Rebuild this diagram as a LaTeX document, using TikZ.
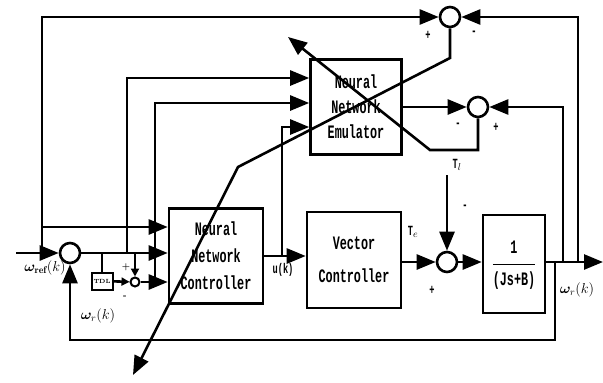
\documentclass[tikz,border=0pt]{standalone}
\usepackage{bm}
\usepackage{fontspec}
\usetikzlibrary{positioning,arrows.meta}
\newfontfamily\blockfont[FakeStretch=0.62]{Liberation Mono}

\begin{document}
\begin{tikzpicture}[
    x=1pt, y=-1pt,
    line width=2.6pt,
    block/.style={
        draw,
        rectangle,
        align=center,
        minimum width=94pt,
        minimum height=95pt,
        inner sep=0pt,
        font=\blockfont\bfseries\fontsize{19}{27}\selectfont
    },
    sum/.style={draw, circle, minimum size=#1, inner sep=0pt},
    sum/.default=20pt,
    tdlbox/.style={
        draw,
        line width=2pt,
        minimum width=21pt,
        minimum height=17pt,
        inner sep=0pt,
        font=\bfseries\fontsize{6}{7}\selectfont
    },
    lbl/.style={font=\blockfont\bfseries\fontsize{14}{16}\selectfont, inner sep=1pt},
    arrow/.style={-{Triangle[length=19pt,width=15pt]}},
    smallarrow/.style={-{Triangle[length=8pt,width=8pt]}}
]
\useasboundingbox (0,0) rectangle (603,383);

% junctions and blocks
\node[sum] (sumA) at (70,253) {};
\node[sum] (sumT) at (450,17) {};
\node[sum] (sumE) at (478,107) {};
\node[sum] (sumQ) at (447,262) {};
\node[sum=9pt, line width=2pt] (dsum) at (135,282) {};
\node[tdlbox] (tdl) at (102,281) {TDL};

\node[block] (nnc) at (216,256) {Neural\\Network\\Controller};
\node[block, minimum height=96pt, font=\blockfont\bfseries\fontsize{19}{33}\selectfont] (vc) at (354,260) {Vector\\Controller};
\node[block, minimum width=91pt, font=\blockfont\bfseries\fontsize{19}{25}\selectfont] (emu) at (356,107) {Neural\\Network\\Emulator};
\node[block, minimum width=62pt, minimum height=98pt] (plant) at (514,264)
    {\setlength{\arrayrulewidth}{1.8pt}\begin{tabular}{@{}c@{}}1\\[2pt]\hline\rule{0pt}{20pt}(Js+B)\end{tabular}};

% branch points
\coordinate (in) at (16,253);
\coordinate (refb) at (42,253);
\coordinate (refn) at (42,227);
\coordinate (errb) at (127,253);
\coordinate (derb) at (155,282);
\coordinate (ub) at (282,256);
\coordinate (tl) at (447,175);
\coordinate (out) at (603,262);
\coordinate (fbr) at (555,262);
\coordinate (fbb) at (555,340);
\coordinate (emb) at (563,262);
\coordinate (tpb) at (578,262);
\coordinate (c1) at (450,58);
\coordinate (c2) at (238,167);
\coordinate (c3) at (133,375);
\coordinate (d1) at (478,150);
\coordinate (d2) at (430,150);
\coordinate (d3) at (288,37);

% signal path
\draw[arrow] (in) -- (sumA);
\draw[arrow] (refb) |- (sumT);
\draw[arrow] (refn) -- (refn -| nnc.west);
\draw[arrow] (sumA) -- (sumA -| nnc.west);
\draw (tdl) -- (tdl |- sumA);
\draw[smallarrow] (tdl) -- (dsum);
\draw[smallarrow] (dsum |- sumA) -- (dsum);
\draw[arrow] (dsum) -- (dsum -| nnc.west);
\draw[arrow] (errb) |- (emu.west |- 0,78);
\draw[arrow] (derb) |- (emu.west |- 0,103);
\draw[arrow] (ub) |- (emu.west |- 0,127);
\draw[arrow] (nnc.east) -- (nnc.east -| vc.west);
\draw[arrow] (vc.east |- sumQ) -- (sumQ);
\draw[arrow] (tl) -- (sumQ);
\draw[arrow] (sumQ) -- (sumQ -| plant.west);
\draw[arrow] (plant.east |- out) -- (out);
\draw[arrow] (fbr) -- (fbb) -| (sumA);
\draw[arrow] (emb) |- (sumE);
\draw[arrow] (tpb) |- (sumT);
\draw[arrow] (emu.east |- sumE) -- (sumE);

% training signals
\draw[arrow] (sumT) -- (c1) -- (c2) -- (c3);
\draw[arrow] (sumE) -- (d1) -- (d2) -- (d3);

% labels
\node[lbl] at (45,268) {$\bm{\omega}_{\mathbf{ref}}(k)$};
\node[lbl] at (98,316) {$\bm{\omega}_r(k)$};
\node[lbl] at (577,290) {$\bm{\omega}_r(k)$};
\node[lbl] at (283,270) {u(k)};
\node[lbl] at (413,232) {T$_e$};
\node[lbl] at (457,165) {T$_l$};
\node[lbl] at (428,35) {+};
\node[lbl] at (474,33) {-};
\node[lbl] at (458,125) {-};
\node[lbl] at (496,127) {+};
\node[lbl] at (465,207) {-};
\node[lbl] at (432,290) {+};
\node[lbl, font=\bfseries\fontsize{9}{10}\selectfont] at (126,267) {+};
\node[lbl, font=\bfseries\fontsize{9}{10}\selectfont] at (125,297) {-};

\end{tikzpicture}
\end{document}
